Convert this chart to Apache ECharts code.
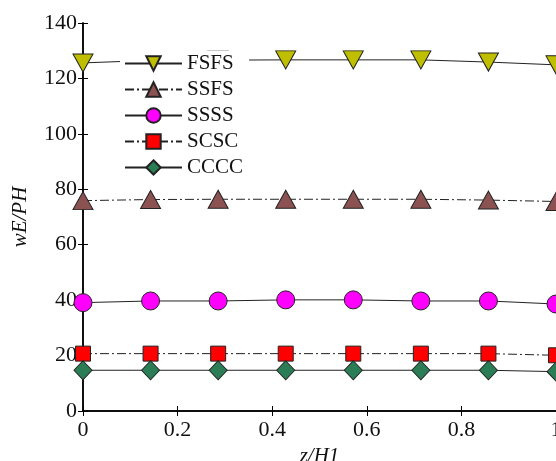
<!DOCTYPE html>
<html>
<head>
<meta charset="utf-8">
<script src="https://cdn.jsdelivr.net/npm/echarts@6/dist/echarts.min.js"></script>
<style>
  html, body { margin: 0; padding: 0; background: #fff; }
  #chart { width: 556px; height: 461px; }
</style>
</head>
<body>
<div id="chart"></div>
<script>
// z/H1 positions (8 points)
const zH = [0, 1 / 7, 2 / 7, 3 / 7, 4 / 7, 5 / 7, 6 / 7, 1];

const fsfs = [125.6, 126.5, 126.6, 126.7, 126.7, 126.7, 125.9, 124.9];
const ssfs = [75.9, 76.3, 76.4, 76.4, 76.4, 76.4, 76.1, 75.6];
const ssss = [39.1, 39.7, 39.7, 40.1, 40.1, 39.7, 39.7, 38.6];
const scsc = [20.7, 20.7, 20.7, 20.7, 20.7, 20.7, 20.7, 20.1];
const cccc = [14.7, 14.7, 14.7, 14.7, 14.7, 14.7, 14.7, 14.2];

const xTicks = ['0', '0.2', '0.4', '0.6', '0.8', '1'];

const FONT = 'Liberation Serif';
const triDown = 'path://M0,0 L20,0 L10,18 Z';
const dashDot = [9, 3, 2, 3];

function pairs(ys) {
  return zH.map((x, i) => [x, ys[i]]);
}

function makeSeries(name, ys, symbol, size, color, dashed) {
  return {
    name: name,
    type: 'line',
    data: pairs(ys),
    symbol: symbol,
    symbolSize: size,
    showSymbol: true,
    lineStyle: { color: '#222', width: 1, type: dashed ? dashDot : 'solid' },
    itemStyle: { color: color, borderColor: '#222', borderWidth: 1 },
    emphasis: { disabled: true },
    z: 2
  };
}

const chart = echarts.init(document.getElementById('chart'));

const option = {
  animation: false,
  grid: { left: 83, right: 0, top: 23, bottom: 50, outerBoundsMode: 'none' },
  legend: {
    orient: 'vertical',
    left: 120,
    top: 51,
    backgroundColor: '#fff',
    padding: [2, 6, 2, 4],
    itemWidth: 57,
    itemHeight: 18,
    itemGap: 5,
    textStyle: { fontFamily: FONT, fontSize: 21, color: '#111', padding: [0, 0, 0, 0] },
    z: 10,
    data: ['FSFS', 'SSFS', 'SSSS', 'SCSC', 'CCCC']
  },
  xAxis: [
    {
      type: 'value',
      min: 0,
      max: 1,
      interval: 0.2,
      name: 'z/H1',
      nameLocation: 'middle',
      nameGap: 33,
      nameTextStyle: { fontFamily: FONT, fontSize: 21, fontStyle: 'italic', color: '#111' },
      axisLine: { lineStyle: { color: '#000', width: 1.5 } },
      axisTick: { inside: true, length: 5, lineStyle: { color: '#000' } },
      axisLabel: {
        fontFamily: FONT, fontSize: 22, color: '#111', margin: 8,
        formatter: (v) => xTicks[Math.round(v / 0.2)]
      },
      splitLine: { show: false }
    },
    {
      type: 'value',
      position: 'top',
      min: 0,
      max: 1,
      interval: 0.2,
      axisLine: { lineStyle: { color: '#000', width: 1.5 } },
      axisTick: { inside: true, length: 5, lineStyle: { color: '#000' } },
      axisLabel: { show: false },
      splitLine: { show: false }
    }
  ],
  yAxis: [
    {
      type: 'value',
      min: 0,
      max: 140,
      interval: 20,
      name: 'wE/PH',
      nameLocation: 'middle',
      nameGap: 52,
      nameTextStyle: { fontFamily: FONT, fontSize: 21, fontStyle: 'italic', color: '#111' },
      axisLine: { show: true, lineStyle: { color: '#000', width: 1.5 } },
      axisTick: { show: true, inside: true, length: 5, lineStyle: { color: '#000' } },
      axisLabel: { fontFamily: FONT, fontSize: 22, color: '#111', margin: 6 },
      splitLine: { show: false }
    },
    {
      type: 'value',
      position: 'right',
      min: 0,
      max: 140,
      interval: 20,
      axisLine: { show: true, lineStyle: { color: '#000', width: 1.5 } },
      axisTick: { show: true, inside: true, length: 5, lineStyle: { color: '#000' } },
      axisLabel: { show: false },
      splitLine: { show: false }
    }
  ],
  series: [
    makeSeries('FSFS', fsfs, triDown, [20, 18], '#bfbf00', false),
    makeSeries('SSFS', ssfs, 'triangle', [20, 18], '#8c5252', true),
    makeSeries('SSSS', ssss, 'circle', 18, '#ff00ff', false),
    makeSeries('SCSC', scsc, 'rect', 15, '#ff0000', true),
    makeSeries('CCCC', cccc, 'diamond', [18, 19], '#2a7d55', false)
  ]
};

chart.setOption(option);
</script>
</body>
</html>
